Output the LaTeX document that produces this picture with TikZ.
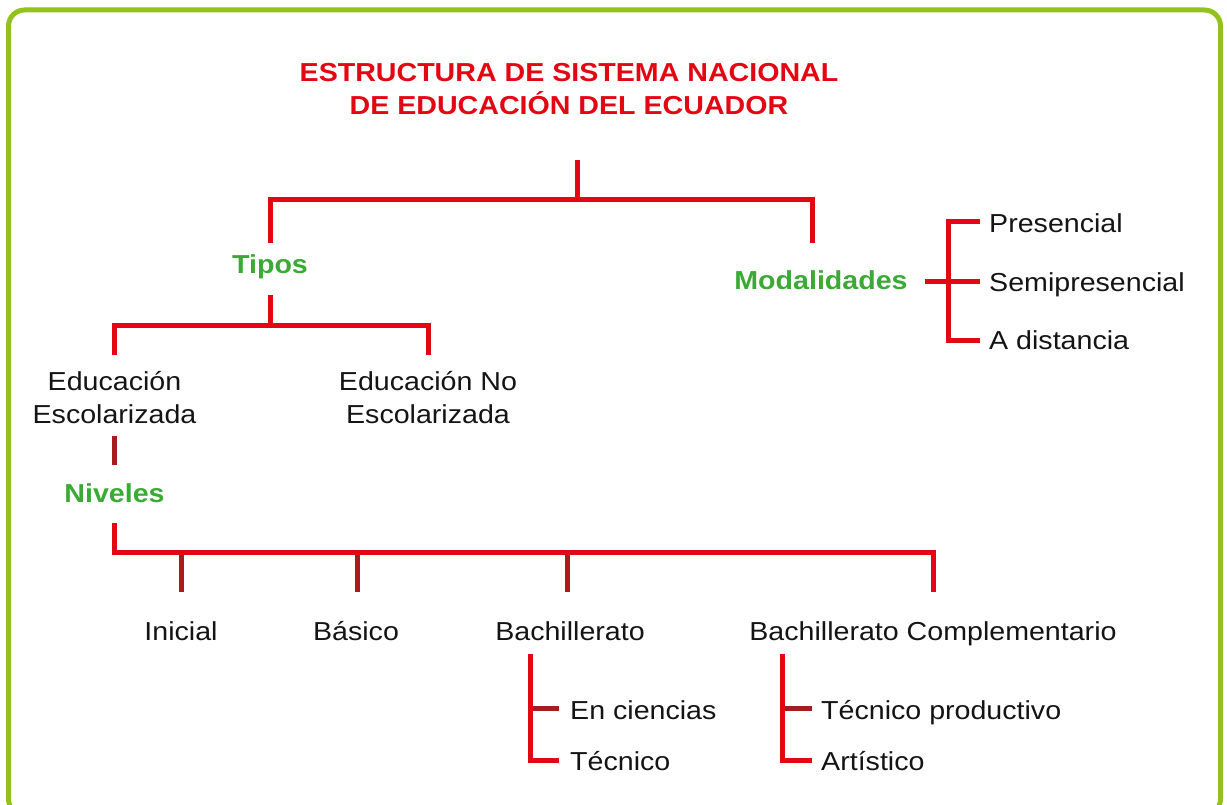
\documentclass[tikz,border=0pt]{standalone}
\usepackage{fontspec}
\setmainfont{Liberation Sans}[FakeStretch=1.1]
\definecolor{lred}{RGB}{227,6,19}
\definecolor{dred}{RGB}{168,28,30}
\definecolor{lgreen}{RGB}{58,170,53}
\definecolor{bgreen}{RGB}{149,193,31}
\definecolor{txt}{RGB}{20,20,20}
\begin{document}
\begin{tikzpicture}[x=1pt,y=-1pt,
  lbl/.style={anchor=base, inner sep=0pt, text=txt, font=\fontsize{26}{33}\selectfont},
  lblw/.style={lbl, anchor=base west},
  grn/.style={anchor=base, inner sep=0pt, text=lgreen, font=\fontsize{26}{31}\selectfont\bfseries},
  conn/.style={draw=lred, line width=5pt},
  stub/.style={draw=dred, line width=5pt}]

\useasboundingbox (0,0) rectangle (1227,805);
\begin{scope}
\clip (0,0) rectangle (1227,805);
\draw[bgreen, line width=5pt, rounded corners=16pt] (8.5,10) rectangle (1220.5,815);
\end{scope}

% title
\node[anchor=base, inner sep=0pt, text=lred, font=\fontsize{26}{31}\selectfont\bfseries] (title) at (569,82)
  {\begin{tabular}[t]{@{}c@{}}ESTRUCTURA DE SISTEMA NACIONAL\\DE EDUCACIÓN DEL ECUADOR\end{tabular}};

% first level
\coordinate (t0) at (577,160);
\coordinate (tj) at (577,200);
\coordinate (tla) at (270,200);
\coordinate (tra) at (812,200);
\coordinate (tl) at (270,243);
\coordinate (tr) at (812,243);
\draw[conn] (t0) -- (tj);
\draw[conn] (tl) -- (tla) -- (tra) -- (tr);

\node[grn] (tipos) at (270,274) {Tipos};
\node[grn] (modal) at (821,290) {Modalidades};

% modalidades bracket
\node[lblw] (pres) at (989,233) {Presencial};
\node[lblw] (semi) at (989,291) {Semipresencial};
\node[lblw] (dist) at (989,349) {A distancia};
\coordinate (m0) at (925,282);
\coordinate (m1) at (980,282);
\coordinate (mt) at (948,222);
\coordinate (mte) at (980,222);
\coordinate (mb) at (948,340);
\coordinate (mbe) at (980,340);
\draw[conn] (m0) -- (m1);
\draw[conn] (mte) -- (mt) -- (mb) -- (mbe);

% tipos
\coordinate (ty1) at (270,295);
\coordinate (ty2) at (270,325);
\coordinate (tyl) at (114,325);
\coordinate (tyr) at (428,325);
\coordinate (tyle) at (114,355);
\coordinate (tyre) at (428,355);
\draw[conn] (ty1) -- (ty2);
\draw[conn] (tyle) -- (tyl) -- (tyr) -- (tyre);

\node[lbl] (esc) at (114.5,390) {\begin{tabular}[t]{@{}c@{}}Educación\\Escolarizada\end{tabular}};
\node[lbl] (noesc) at (428,390) {\begin{tabular}[t]{@{}c@{}}Educación No\\Escolarizada\end{tabular}};

\coordinate (e1) at (114,436);
\coordinate (e2) at (114,465);
\draw[stub] (e1) -- (e2);

\node[grn] (niv) at (114.5,502) {Niveles};

% niveles
\coordinate (n1) at (114,523);
\coordinate (n2) at (114,552);
\coordinate (n3) at (933,552);
\coordinate (n4) at (933,592);
\coordinate (s1a) at (181,552); \coordinate (s1b) at (181,592);
\coordinate (s2a) at (357,552); \coordinate (s2b) at (357,592);
\coordinate (s3a) at (567,552); \coordinate (s3b) at (567,592);
\draw[stub] (s1a) -- (s1b);
\draw[stub] (s2a) -- (s2b);
\draw[stub] (s3a) -- (s3b);
\draw[conn] (n1) -- (n2) -- (n3) -- (n4);

\node[lbl] (ini) at (181,640) {Inicial};
\node[lbl] (bas) at (356,640) {Básico};
\node[lbl] (bach) at (570,640) {Bachillerato};
\node[lbl] (comp) at (933,640) {Bachillerato Complementario};

% bachillerato bracket
\coordinate (b0) at (530,654);
\coordinate (bm) at (530,708);
\coordinate (bme) at (559,708);
\coordinate (bb) at (530,760);
\coordinate (bbe) at (559,760);
\draw[stub] (bm) -- (bme);
\draw[conn] (b0) -- (bb) -- (bbe);
\node[lblw] (cien) at (570,719) {En ciencias};
\node[lblw] (tec) at (570,770) {Técnico};

% complementario bracket
\coordinate (c0) at (782,654);
\coordinate (cm) at (782,708);
\coordinate (cme) at (812,708);
\coordinate (cb) at (782,760);
\coordinate (cbe) at (812,760);
\draw[stub] (cm) -- (cme);
\draw[conn] (c0) -- (cb) -- (cbe);
\node[lblw] (tprod) at (821,719) {Técnico productivo};
\node[lblw] (art) at (821,770) {Artístico};
\end{tikzpicture}
\end{document}
